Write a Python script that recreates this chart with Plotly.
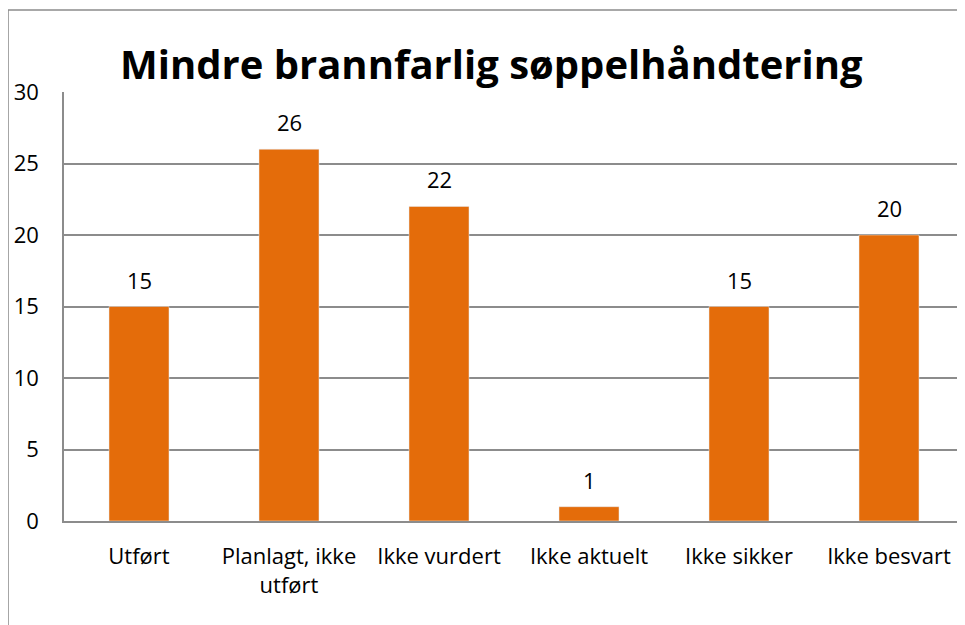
import plotly.graph_objects as go

categories = ["Utført", "Planlagt, ikke<br>utført", "Ikke vurdert", "Ikke aktuelt", "Ikke sikker", "Ikke besvart"]
values = [15, 26, 22, 1, 15, 20]
yticks = [0, 5, 10, 15, 20, 25, 30]

ORANGE = "#E46C0A"
GRID = "#8C8C8C"
FONT = "Open Sans, sans-serif"

fig = go.Figure(go.Bar(
    x=categories, y=values, marker_color=ORANGE, width=0.4,
))

for c, v in zip(categories, values):
    fig.add_annotation(x=c, y=v, text=str(v), showarrow=False, yanchor="bottom",
                       yshift=10, font=dict(size=22, color="#000000", family=FONT))

fig.update_layout(
    width=957, height=617,
    margin=dict(l=56, r=1, t=84, b=104),
    paper_bgcolor="white", plot_bgcolor="white",
    showlegend=False,
    title=dict(text="<b>Mindre brannfarlig søppelhåndtering</b>", x=0.505, xanchor="center",
               y=0.9076, yanchor="middle", font=dict(size=40, color="#000000", family=FONT)),
    font=dict(family=FONT, color="#000000", size=22),
    bargap=0.6,
)
fig.update_yaxes(range=[0, 30], tickvals=yticks, showgrid=True, gridcolor=GRID, gridwidth=1.5,
                 zeroline=False, showline=True, linecolor=GRID, linewidth=1.5,
                 ticks="", ticklabelstandoff=19, tickfont=dict(size=22, family=FONT))
fig.update_xaxes(showline=True, linecolor=GRID, linewidth=1.5, ticks="",
                 tickfont=dict(size=22, family=FONT), ticklabelstandoff=15)
fig.add_shape(type="rect", xref="paper", yref="paper", x0=-0.0622, x1=1.2, y0=-0.5, y1=1.191,
              line=dict(color=GRID, width=1.5), fillcolor="rgba(0,0,0,0)", layer="below")

fig.write_html("out.html")
